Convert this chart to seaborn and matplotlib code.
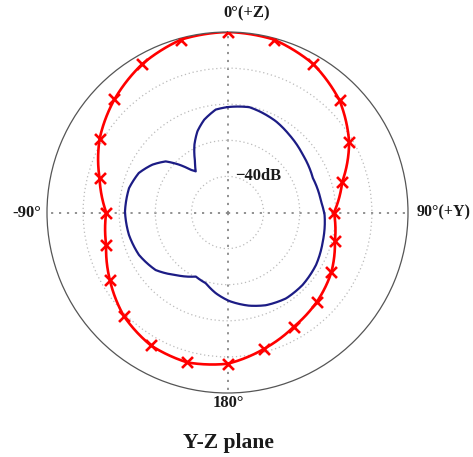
import numpy as np
import pandas as pd
import matplotlib
matplotlib.use("Agg")
import matplotlib.pyplot as plt
import seaborn as sns

# Co-polar radiation pattern, sampled every 15 degrees (dB)
co_angles_deg = [0, 15, 30, 45, 60, 75, 90, 105, 120, 135, 150, 165,
                 180, 195, 210, 225, 240, 255, 270, 285, 300, 315, 330, 345, 360]
co_gain_db = [0.0, -0.4, -2.5, -6.1, -11.1, -17.1, -20.5, -19.2, -16.8, -15.0,
              -13.4, -10.9, -8.1, -7.0, -7.5, -9.4, -12.4, -15.2, -16.4, -13.3,
              -9.1, -5.7, -2.6, -0.4, 0.0]

# Cross-polar radiation pattern (dB)
cross_angles_deg = [0, 11.7, 17.4, 28, 38.4, 52.4, 68, 83.3, 91.4, 107, 120.6,
                    134, 145.7, 157.5, 166.9, 179, 188.2, 197, 206.3, 219.7,
                    231.3, 244.4, 257.2, 270.6, 283.9, 294, 302.4, 309.6,
                    314.6, 319.3, 322.3, 327.6, 334, 339.7, 345.9, 353.5, 360]
cross_gain_db = [-20.8, -20.2, -20.6, -21.4, -22.5, -23.7, -24.5, -23.9, -23.1,
                 -22.4, -21.5, -21.1, -21.2, -22.2, -23.5, -25.5, -27.4, -29.5,
                 -30.2, -27.5, -24.5, -22.8, -22.0, -21.6, -21.9, -23.1, -25.3,
                 -27.8, -31.1, -34.4, -35.6, -33.2, -29.1, -26.0, -23.5, -21.3,
                 -20.8]

r_min, r_max = -50, 0
ring_levels = [-40, -30, -20, -10]
ring_label = "\u221240dB"

co_df = pd.DataFrame({"theta": np.deg2rad(co_angles_deg), "gain": co_gain_db})
cross_df = pd.DataFrame({"theta": np.deg2rad(cross_angles_deg), "gain": cross_gain_db})

sns.set_style("white")
plt.rcParams["font.family"] = ["Liberation Serif", "DejaVu Serif"]
plt.rcParams["font.weight"] = "bold"

W, H = 473, 457
fig = plt.figure(figsize=(W / 100, H / 100), dpi=100)
ax = fig.add_axes([47 / W, 1 - 393 / H, 361 / W, 361 / H], projection="polar")
ax.set_theta_zero_location("N")
ax.set_theta_direction(-1)
ax.set_ylim(r_min, r_max)

sns.lineplot(data=cross_df, x="theta", y="gain", sort=False, estimator=None,
             color="#1c1c85", linewidth=1.6, ax=ax)
sns.lineplot(data=co_df, x="theta", y="gain", sort=False, estimator=None,
             color="#ff0000", linewidth=1.9, ax=ax)
# draw the pattern traces as arcs in polar space rather than chords
for line in ax.get_lines():
    line.get_path()._interpolation_steps = 40
sns.scatterplot(data=co_df.iloc[:-1], x="theta", y="gain", marker="x", s=62,
                color="#ff0000", linewidth=1.9, ax=ax, zorder=4)
ax.set_xlabel("")
ax.set_ylabel("")

# angular ticks every 10 degrees, crosshair grid on the principal axes
ax.set_xticks(np.deg2rad([0, 90, 180, 270]))
ax.set_xticks(np.deg2rad(np.arange(0, 360, 10)), minor=True)
ax.set_xticklabels([])
ax.tick_params(axis="x", which="both", direction="in", length=3.5,
               width=0.8, color="#555555")
ax.xaxis.grid(True, which="major", color="#888888", linestyle=(0, (1.2, 3.2)),
              linewidth=1.3)
ax.set_yticks(ring_levels)
ax.set_yticklabels([])
ax.yaxis.grid(True, color="#bbbbbb", linestyle=(0, (1, 2.2)), linewidth=0.9)
ax.spines["polar"].set_color("#555555")
ax.spines["polar"].set_linewidth(0.9)


def fig_xy(px, py):
    return px / W, 1 - py / H


txt = dict(fontsize=12, fontweight="bold", color="#1a1a1a")
fig.text(*fig_xy(223, 13), "0°(+Z)", ha="left", va="center", **txt)
fig.text(*fig_xy(41, 213), "-90°", ha="right", va="center", **txt)
fig.text(*fig_xy(471, 212), "90°(+Y)", ha="right", va="center",
         fontsize=11.5, fontweight="bold", color="#1a1a1a")
fig.text(*fig_xy(228, 403), "180°", ha="center", va="center", **txt)
fig.text(*fig_xy(235, 176), ring_label, ha="left", va="center", **txt)
fig.text(*fig_xy(228, 443), "Y-Z plane", ha="center", va="center",
         fontsize=15.5, fontweight="bold", color="#1a1a1a")

fig.savefig("out.png", dpi=100)
